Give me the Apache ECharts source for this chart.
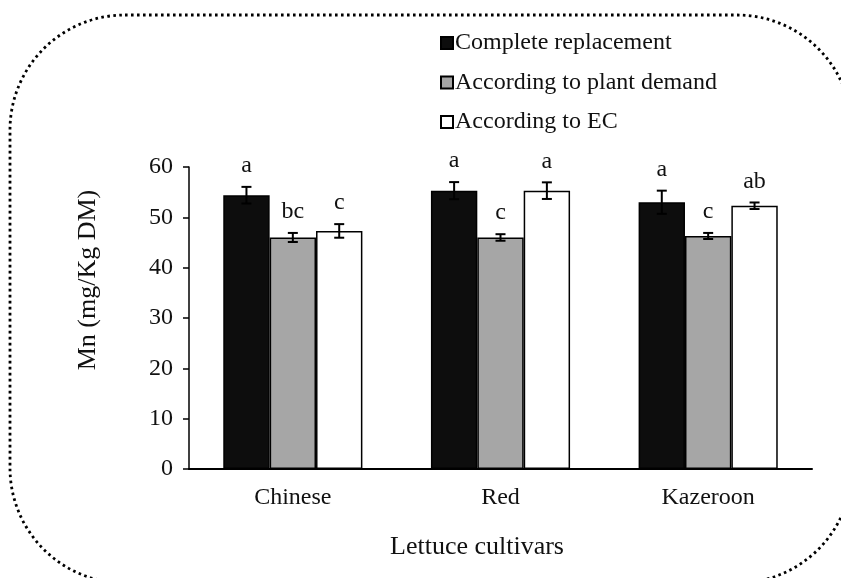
<!DOCTYPE html>
<html><head><meta charset="utf-8">
<script src="https://cdn.jsdelivr.net/npm/echarts@6/dist/echarts.min.js"></script>
<style>html,body{margin:0;padding:0;background:#fff}#c{width:841px;height:578px}</style>
</head><body><div id="c"></div>
<script>
const categories = ['Chinese', 'Red', 'Kazeroon'];
const seriesNames = ['Complete replacement', 'According to plant demand', 'According to EC'];
const completeVals = [54.4, 55.3, 53.0];
const demandVals = [46.0, 46.0, 46.3];
const ecVals = [47.3, 55.3, 52.3];
const completeErr = [1.65, 1.7, 2.3];
const demandErr = [0.9, 0.65, 0.6];
const ecErr = [1.35, 1.65, 0.65];
const completeLetters = ['a', 'a', 'a'];
const demandLetters = ['bc', 'c', 'c'];
const ecLetters = ['c', 'a', 'ab'];
const yMin = 0, yMax = 60, yStep = 10;
const yTitle = 'Mn (mg/Kg DM)';
const xTitle = 'Lettuce cultivars';

const FONT = "'Liberation Serif', 'Times New Roman', serif";
const TXT = '#111';
const fills = ['#0d0d0d', '#a6a6a6', '#ffffff'];
const CAT_GAP = 0.33;

const vals = [completeVals, demandVals, ecVals];
const errs = [completeErr, demandErr, ecErr];
const letters = [completeLetters, demandLetters, ecLetters];

const errData = [];
const errLetters = [];
for (let s = 0; s < 3; s++) {
  for (let c = 0; c < categories.length; c++) {
    errData.push([c, s, vals[s][c], errs[s][c]]);
    errLetters.push(letters[s][c]);
  }
}

const chart = echarts.init(document.getElementById('c'), null, {renderer: 'canvas'});
const barSeries = seriesNames.map((name, i) => ({
  name: name,
  type: 'bar',
  data: vals[i],
  barGap: '0%',
  barCategoryGap: (CAT_GAP * 100) + '%',
  itemStyle: {color: fills[i], borderColor: '#000', borderWidth: 1.5},
  z: 2
}));

const option = {
  animation: false,
  backgroundColor: '#fff',
  textStyle: {fontFamily: FONT},
  grid: {left: 189, right: 29, top: 167, bottom: 109, containLabel: false},
  legend: {
    data: seriesNames.map(n => ({name: n, icon: 'rect'})),
    orient: 'vertical',
    left: 435,
    top: 26,
    itemWidth: 12,
    itemHeight: 12,
    itemGap: 15.5,
    textStyle: {fontFamily: FONT, fontSize: 24, color: TXT, padding: [0, 0, 0, -3]},
    selectedMode: false
  },
  xAxis: {
    type: 'category',
    data: categories,
    axisLine: {lineStyle: {color: '#000', width: 2}},
    axisTick: {show: false},
    axisLabel: {fontFamily: FONT, fontSize: 24, color: TXT, margin: 17}
  },
  yAxis: {
    type: 'value',
    min: yMin, max: yMax, interval: yStep,
    axisLine: {show: true, lineStyle: {color: '#000', width: 1.5}},
    axisTick: {show: true, length: 6, lineStyle: {color: '#000', width: 1.5}},
    splitLine: {show: false},
    axisLabel: {fontFamily: FONT, fontSize: 24, color: TXT, margin: 16}
  },
  series: barSeries.concat([{
    type: 'custom',
    z: 5,
    data: errData,
    encode: {x: 0, y: 2},
    renderItem: function (params, api) {
      const ci = api.value(0), si = api.value(1), v = api.value(2), e = api.value(3);
      const band = api.size([1, 0])[0];
      const barW = band * (1 - CAT_GAP) / 3;
      const base = api.coord([ci, v]);
      const x = base[0] + (si - 1) * barW;
      const top = api.coord([ci, v + e])[1];
      const bot = api.coord([ci, v - e])[1];
      const cap = 5;
      const ls = {stroke: '#000', lineWidth: 2};
      return {
        type: 'group',
        children: [
          {type: 'line', shape: {x1: x, y1: top, x2: x, y2: bot}, style: ls},
          {type: 'line', shape: {x1: x - cap, y1: top, x2: x + cap, y2: top}, style: ls},
          {type: 'line', shape: {x1: x - cap, y1: bot, x2: x + cap, y2: bot}, style: ls},
          {type: 'text', x: x, y: top - 9, style: {
            text: errLetters[params.dataIndex], font: '24px ' + FONT, fill: TXT,
            textAlign: 'center', textVerticalAlign: 'bottom'
          }}
        ]
      };
    }
  }]),
  graphic: [
    {type: 'rect', silent: true, z: 0,
     shape: {x: 10, y: 15, width: 842, height: 568, r: 115},
     style: {fill: null, stroke: '#000', lineWidth: 2.8, lineDash: [2.6, 3.4]}},
    {type: 'text', x: 88, y: 280, rotation: Math.PI / 2,
     style: {text: yTitle, font: '26px ' + FONT, fill: TXT, textAlign: 'center', textVerticalAlign: 'middle'}},
    {type: 'text', x: 477, y: 547,
     style: {text: xTitle, font: '26px ' + FONT, fill: TXT, textAlign: 'center', textVerticalAlign: 'middle'}}
  ]
};
chart.setOption(option);
</script>
</body></html>
